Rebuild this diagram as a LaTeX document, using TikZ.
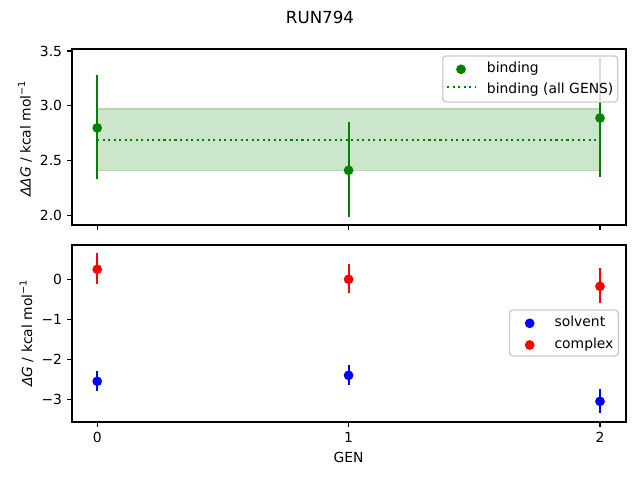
\documentclass[tikz,border=0pt]{standalone}
\usepackage{fontspec}
\setmainfont{DejaVu Sans}
\begin{document}
\begin{tikzpicture}[x=0.72pt,y=-0.72pt,
  spine/.style={line width=0.8pt,black},
  tickmark/.style={line width=0.8pt,black},
  ticklab/.style={font=\fontsize{10}{12}\selectfont,inner sep=0pt},
  ebar/.style={line width=1.5pt},
  dot/.style={circle,inner sep=0pt,minimum size=7pt},
  legbox/.style={draw=black!20,line width=1pt,fill=white,fill opacity=0.8,rounded corners=2.5pt},
  legtext/.style={font=\fontsize{10}{12}\selectfont,inner sep=0pt,anchor=base west},
]
\definecolor{mgreen}{HTML}{008000}
\definecolor{mblue}{HTML}{0000FF}
\definecolor{mred}{HTML}{FF0000}
\definecolor{bandfill}{HTML}{CCE6CC}
\useasboundingbox (0,0) rectangle (640,480);
\fill[white] (0,0) rectangle (640,480);

% title
\node[font=\fontsize{12}{14}\selectfont,inner sep=0pt] (title) at (320,17) {RUN794};

% ---------- top axes ----------
\fill[bandfill] (97.2,109) rectangle (600,170.7);
\draw[mgreen!30,line width=1pt] (97.2,109) -- (600,109) (97.2,170.7) -- (600,170.7);
\draw[mgreen,line width=1.5pt,dash pattern=on 1.5pt off 2.475pt] (97.2,139.9) -- (600,139.9);

\draw[ebar,mgreen] (97.2,75) -- (97.2,179.3);
\draw[ebar,mgreen] (348.6,122) -- (348.6,216.7);
\draw[ebar,mgreen] (600,57.6) -- (600,177.3);
\node[dot,fill=mgreen] (b0) at (97.2,127.9) {};
\node[dot,fill=mgreen] (b1) at (348.6,170.3) {};
\node[dot,fill=mgreen] (b2) at (600,118) {};

\draw[spine] (72,49) rectangle (626,225);
% y ticks
\foreach \v/\y in {2.0/215.7,2.5/160.8,3.0/105.9,3.5/51}{
  \draw[tickmark] (72,\y) -- (67.1,\y);
  \node[ticklab,anchor=east] at (62.3,\y) {\v};
}
\foreach \x in {97.2,348.6,600}{
  \draw[tickmark] (\x,225) -- (\x,229.9);
}
\node[font=\fontsize{10}{12}\selectfont,rotate=90,inner sep=0pt] (ylab1) at (25,139) {\textit{Δ}\textit{Δ}\textit{G} / kcal mol\raisebox{0.75ex}{\fontsize{7}{8}\selectfont −1}};

% legend top
\draw[legbox] (442.7,56) rectangle (617.7,102);
\node[dot,fill=mgreen] (lb) at (461,69.3) {};
\draw[mgreen,line width=1.5pt,dash pattern=on 1.5pt off 2.475pt] (447,87) -- (475,87);
\node[legtext] (lt1) at (486.7,72.5) {binding};
\node[legtext] (lt2) at (486.7,93) {binding (all GENS)};

% ---------- bottom axes ----------
\draw[ebar,mred] (97.2,253.3) -- (97.2,284.3);
\draw[ebar,mred] (348.6,264) -- (348.6,292.7);
\draw[ebar,mred] (600,268.3) -- (600,303.3);
\draw[ebar,mblue] (97.2,371.3) -- (97.2,390.7);
\draw[ebar,mblue] (348.6,365) -- (348.6,384.7);
\draw[ebar,mblue] (600,389.3) -- (600,413.3);
\node[dot,fill=mred] (c0) at (97.2,269.3) {};
\node[dot,fill=mred] (c1) at (348.6,279.3) {};
\node[dot,fill=mred] (c2) at (600,286.3) {};
\node[dot,fill=mblue] (s0) at (97.2,381.3) {};
\node[dot,fill=mblue] (s1) at (348.6,375.3) {};
\node[dot,fill=mblue] (s2) at (600,401.3) {};

\draw[spine] (72,245) rectangle (626,422);
\foreach \v/\y in {0/279.3,−1/319.3,−2/359.3,−3/399.3}{
  \draw[tickmark] (72,\y) -- (67.1,\y);
  \node[ticklab,anchor=east] at (62.3,\y) {\v};
}
\foreach \x/\l in {97.2/0,348.6/1,600/2}{
  \draw[tickmark] (\x,422) -- (\x,426.9);
  \node[ticklab,anchor=north] at (\x,431.7) {\l};
}
\node[font=\fontsize{10}{12}\selectfont,rotate=90,inner sep=0pt] (ylab2) at (26.5,333.5) {\textit{Δ}\textit{G} / kcal mol\raisebox{0.75ex}{\fontsize{7}{8}\selectfont −1}};
\node[font=\fontsize{10}{12}\selectfont,inner sep=0pt] (xlab) at (348.6,457) {GEN};

% legend bottom
\draw[legbox] (509.5,310) rectangle (618.3,356);
\node[dot,fill=mblue] (ls) at (529.7,323.3) {};
\node[dot,fill=mred] (lc) at (529.7,345) {};
\node[legtext] (lt3) at (554.3,326.7) {solvent};
\node[legtext] (lt4) at (554.3,348.2) {complex};
\end{tikzpicture}
\end{document}
